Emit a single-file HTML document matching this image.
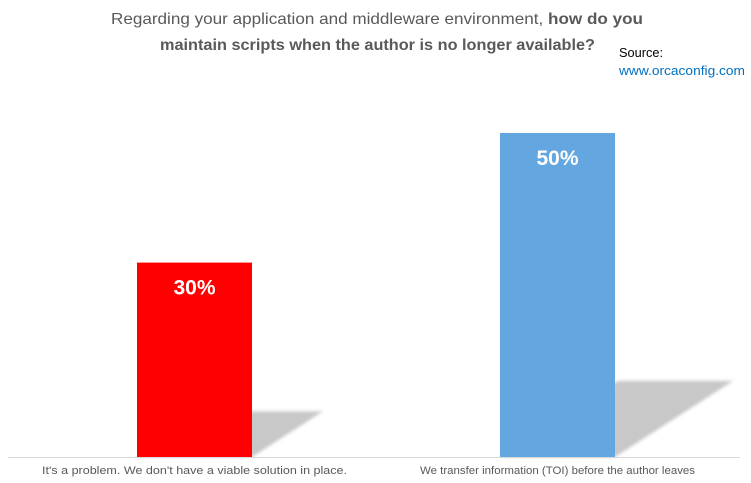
<!DOCTYPE html>
<html><head><meta charset="utf-8"><style>
body{margin:0;background:#fff;}
svg{display:block;font-family:"Liberation Sans",sans-serif;}
</style></head><body>
<svg width="751" height="483">
<defs><filter id="blur" x="-20%" y="-20%" width="140%" height="140%"><feGaussianBlur stdDeviation="1.5"/></filter></defs>
<text x="111" y="24" font-size="16" fill="#595959" textLength="532" lengthAdjust="spacingAndGlyphs">Regarding your application and middleware environment, <tspan font-weight="bold">how do you</tspan></text>
<text x="160" y="50" font-size="16" fill="#595959" font-weight="bold" textLength="435" lengthAdjust="spacingAndGlyphs">maintain scripts when the author is no longer available?</text>
<text x="619" y="57" font-size="13" fill="#000" textLength="44" lengthAdjust="spacingAndGlyphs">Source:</text>
<text x="619" y="75" font-size="13" fill="#0070c0" textLength="126" lengthAdjust="spacingAndGlyphs">www.orcaconfig.com</text>
<g id="plot"></g>
<line x1="8" y1="457.5" x2="740" y2="457.5" stroke="#d9d9d9" stroke-width="1"/>
</svg>
<script>
const categories=["It's a problem. We don't have a viable solution in place.","We transfer information (TOI) before the author leaves"];
const values=[30,50];
const colors=["#ff0000","#63a6e0"];
const labels=["30%","50%"];
const base=457, scale=6.48, barW=115;
const centers=[194.5,557.5];
function y(v){return base-v*scale;}
const ns="http://www.w3.org/2000/svg";
const g=document.getElementById('plot');
values.forEach((v,i)=>{
  const x0=centers[i]-barW/2, x1=x0+barW, h=(base-y(v))*0.235, s=h*1.55;
  const sh=document.createElementNS(ns,'polygon');
  
  
  sh.setAttribute('points',`${x0},${base} ${x0+s},${base-h} ${x1+s},${base-h} ${x1},${base}`);
  sh.setAttribute('fill','#c8c8c8');
  sh.setAttribute('filter','url(#blur)');
  g.appendChild(sh);
});
values.forEach((v,i)=>{
  const x0=centers[i]-barW/2;
  const r=document.createElementNS(ns,'rect');
  
  
  r.setAttribute('x',x0);r.setAttribute('y',y(v));
  r.setAttribute('width',barW);r.setAttribute('height',base-y(v));
  r.setAttribute('fill',colors[i]);
  g.appendChild(r);
  const t=document.createElementNS(ns,'text');
  
  
  t.setAttribute('x',centers[i]);t.setAttribute('y',y(v)+32);
  t.setAttribute('text-anchor','middle');t.setAttribute('font-size','21');
  t.setAttribute('font-weight','bold');t.setAttribute('fill','#fff');
  t.textContent=labels[i];
  g.appendChild(t);
  const c=document.createElementNS(ns,'text');
  
  
  c.setAttribute('x',centers[i]);c.setAttribute('y',474);
  c.setAttribute('text-anchor','middle');c.setAttribute('font-size','11');
  c.setAttribute('fill','#595959');
  c.setAttribute('textLength',i==0?'305':'275');
  c.setAttribute('lengthAdjust','spacingAndGlyphs');
  c.textContent=categories[i];
  g.appendChild(c);
});
</script>
</body></html>
